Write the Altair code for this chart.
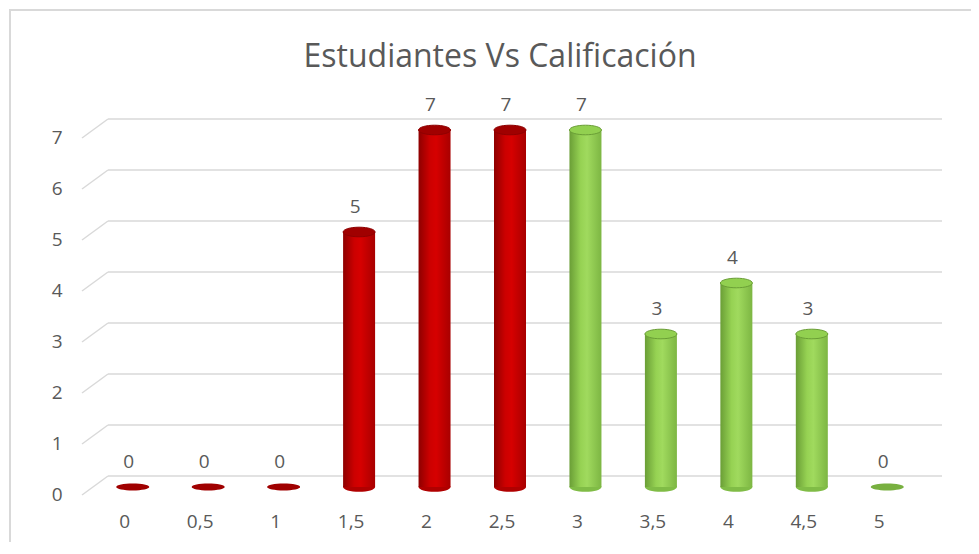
import altair as alt
import pandas as pd

calificaciones = ["0", "0,5", "1", "1,5", "2", "2,5", "3", "3,5", "4", "4,5", "5"]
estudiantes = [0, 0, 0, 5, 7, 7, 7, 3, 4, 3, 0]
grupo = ["rojo"] * 6 + ["verde"] * 5
ticks_y = [0, 1, 2, 3, 4, 5, 6, 7]
titulo = "Estudiantes Vs Calificación"

df = pd.DataFrame({"cal": calificaciones, "n": estudiantes, "g": grupo})
df_grid = pd.DataFrame({"v": ticks_y})
df_title = pd.DataFrame({"t": [titulo]})

FONT = "Open Sans"
GRAY = "#595959"
GRID = "#D9D9D9"

xenc = alt.X("cal:N", sort=calificaciones,
             scale=alt.Scale(paddingInner=0, paddingOuter=0),
             axis=alt.Axis(title=None, domain=False, ticks=False, labelAngle=0,
                           labelFontSize=19, labelColor=GRAY, labelFont=FONT,
                           labelPadding=25, labelOffset=-8))
yscale = alt.Scale(domain=[0, 7], nice=False, zero=True)
yenc = alt.Y("n:Q", scale=yscale,
             axis=alt.Axis(title=None, domain=False, ticks=False, grid=False,
                           values=ticks_y, labelFontSize=19, labelColor=GRAY,
                           labelFont=FONT, labelPadding=33, labelOffset=7))

base = alt.Chart(df)

border = alt.Chart(df_grid).mark_rect(fill=None, stroke=GRID, strokeWidth=1.5).encode(
    x=alt.value(-85), x2=alt.value(950), y=alt.value(-120), y2=alt.value(480)
)

title_txt = alt.Chart(df_title).mark_text(
    fontSize=32, font=FONT, color=GRAY, align="center", baseline="alphabetic").encode(
    x=alt.value(405), y=alt.value(-63), text="t:N")

grid_back = alt.Chart(df_grid).mark_rule(color=GRID, strokeWidth=1.5, yOffset=-11).encode(
    y=alt.Y("v:Q", scale=yscale), x=alt.value(13), x2=alt.value(847)
)
grid_diag = alt.Chart(df_grid).mark_rule(color=GRID, strokeWidth=1.5, yOffset=8, y2Offset=-11).encode(
    y=alt.Y("v:Q", scale=yscale), y2="v:Q", x=alt.value(-13), x2=alt.value(13)
)

ELL = "M-1,0A1,0.3,0,1,1,1,0A1,0.3,0,1,1,-1,0Z"
ELL_FLAT = "M-1,0A1,0.21,0,1,1,1,0A1,0.21,0,1,1,-1,0Z"

red_grad = alt.Gradient(gradient="linear", x1=0, x2=1, y1=0, y2=0, stops=[
    alt.GradientStop(color="#8E0000", offset=0),
    alt.GradientStop(color="#CC0000", offset=0.35),
    alt.GradientStop(color="#D60000", offset=0.55),
    alt.GradientStop(color="#A80000", offset=1)])
green_grad = alt.Gradient(gradient="linear", x1=0, x2=1, y1=0, y2=0, stops=[
    alt.GradientStop(color="#6A9E36", offset=0),
    alt.GradientStop(color="#96D253", offset=0.35),
    alt.GradientStop(color="#A0DA5E", offset=0.55),
    alt.GradientStop(color="#7DB643", offset=1)])

layers = [border, title_txt, grid_back, grid_diag]
for g, grad, bottom_col, top_col, top_stroke, flat_col in [
    ("rojo", red_grad, "#B00000", "#A00000", "#8E0000", "#A00000"),
    ("verde", green_grad, "#80BC46", "#92D050", "#6A9E36", "#78B040"),
]:
    sub = base.transform_filter(alt.datum.g == g)
    pos = sub.transform_filter(alt.datum.n > 0)
    zer = sub.transform_filter(alt.datum.n == 0)
    bottom = pos.transform_calculate(zero="0").mark_point(
        shape=ELL, size=1024, filled=True, color=bottom_col, opacity=1).encode(
        x=xenc, y=alt.Y("zero:Q", scale=yscale))
    body = pos.mark_bar(size=32, color=grad).encode(x=xenc, y=yenc)
    top = pos.mark_point(shape=ELL, size=1024, filled=True, fill=top_col,
                         stroke=top_stroke, strokeWidth=1, opacity=1).encode(x=xenc, y=yenc)
    flat = zer.mark_point(shape=ELL_FLAT, size=1089, filled=True, fill=flat_col,
                          opacity=1).encode(x=xenc, y=yenc)
    layers += [bottom, body, top, flat]

labels = base.mark_text(dy=-25, dx=-4, fontSize=19, color=GRAY, font=FONT, baseline="middle").encode(
    x=xenc, y=yenc, text="n:Q")
layers.append(labels)

chart = alt.layer(*layers).properties(
    width=830, height=357,
    padding={"left": 87, "top": 122, "right": 46, "bottom": 55},
    autosize=alt.AutoSizeParams(type="none"),
).configure(background="white").configure_view(stroke=None)

chart.save("out.html", embed_options={"renderer": "svg", "actions": False})
